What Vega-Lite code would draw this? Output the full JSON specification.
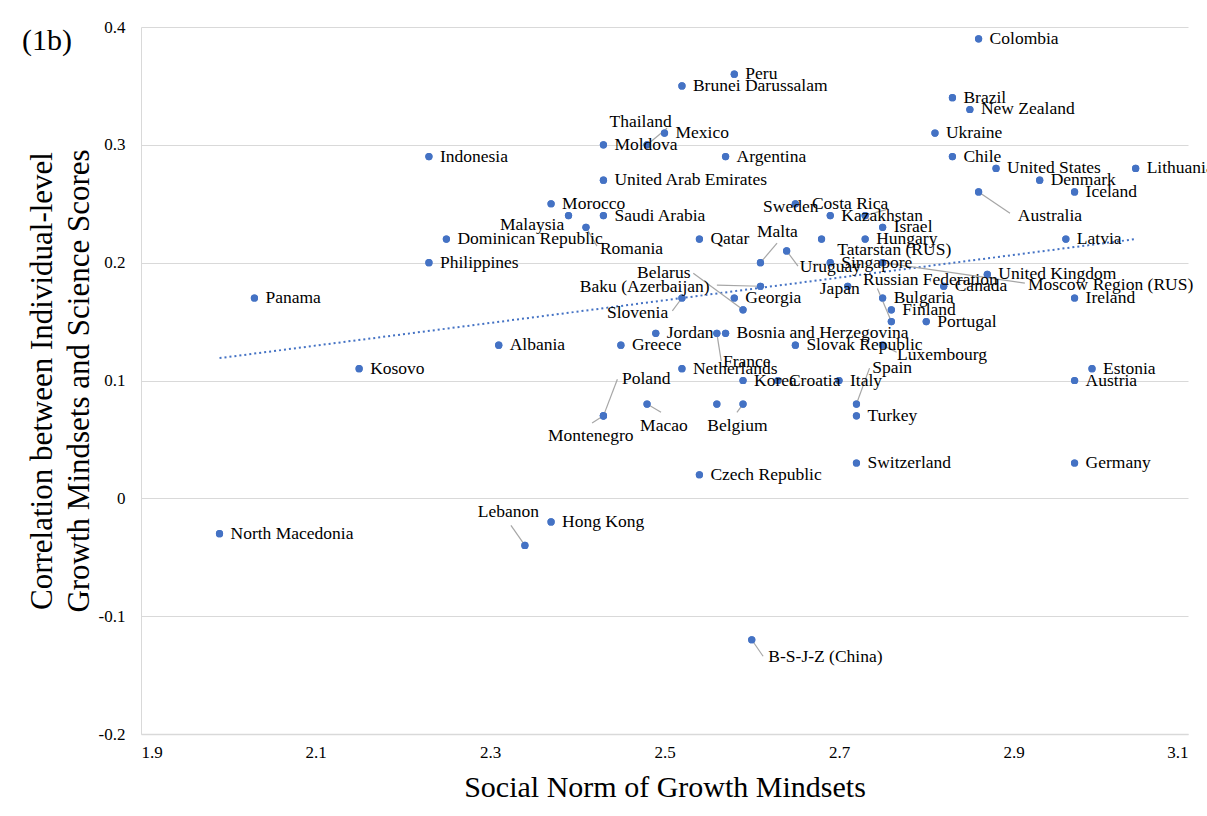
{
  "$schema": "https://vega.github.io/schema/vega-lite/v6.json",
  "width": 1047,
  "height": 707,
  "autosize": {"type": "none"},
  "padding": {"left": 141, "top": 27, "right": 19, "bottom": 82},
  "background": "white",
  "title": {"text": "(1b)", "anchor": "start", "frame": "group", "orient": "top", "offset": -62, "dx": -119, "baseline": "alphabetic", "fontSize": 30, "fontWeight": "normal", "font": "Liberation Serif", "color": "#000000"},
  "config": {"view": {"stroke": null}, "font": "Liberation Serif"},
  "datasets": {
    "pts": [
      {"c": "Colombia", "x": 2.86, "y": 0.39},
      {"c": "Peru", "x": 2.58, "y": 0.36},
      {"c": "Brunei Darussalam", "x": 2.52, "y": 0.35},
      {"c": "Brazil", "x": 2.83, "y": 0.34},
      {"c": "New Zealand", "x": 2.85, "y": 0.33},
      {"c": "Mexico", "x": 2.50, "y": 0.31},
      {"c": "Ukraine", "x": 2.81, "y": 0.31},
      {"c": "Thailand", "x": 2.48, "y": 0.30, "lx": 2.437, "ly": 0.319, "kx": 2.503, "ky": 0.314},
      {"c": "Moldova", "x": 2.43, "y": 0.30},
      {"c": "Indonesia", "x": 2.23, "y": 0.29},
      {"c": "Argentina", "x": 2.57, "y": 0.29},
      {"c": "Chile", "x": 2.83, "y": 0.29},
      {"c": "United States", "x": 2.88, "y": 0.28},
      {"c": "Lithuania", "x": 3.04, "y": 0.28},
      {"c": "United Arab Emirates", "x": 2.43, "y": 0.27},
      {"c": "Denmark", "x": 2.93, "y": 0.27},
      {"c": "Iceland", "x": 2.97, "y": 0.26},
      {"c": "Australia", "x": 2.86, "y": 0.26, "lx": 2.905, "ly": 0.240, "kx": 2.896, "ky": 0.242},
      {"c": "Morocco", "x": 2.37, "y": 0.25},
      {"c": "Sweden", "x": 2.65, "y": 0.25, "lx": 2.613, "ly": 0.247},
      {"c": "Malaysia", "x": 2.39, "y": 0.24, "lx": 2.3115, "ly": 0.232},
      {"c": "Saudi Arabia", "x": 2.43, "y": 0.24},
      {"c": "Kazakhstan", "x": 2.69, "y": 0.24},
      {"c": "Costa Rica", "x": 2.73, "y": 0.24, "lx": 2.669, "ly": 0.250, "kx": 2.754, "ky": 0.245},
      {"c": "Romania", "x": 2.41, "y": 0.23, "lx": 2.426, "ly": 0.212, "kx": 2.4226, "ky": 0.214},
      {"c": "Israel", "x": 2.75, "y": 0.23},
      {"c": "Dominican Republic", "x": 2.25, "y": 0.22},
      {"c": "Qatar", "x": 2.54, "y": 0.22},
      {"c": "Tatarstan (RUS)", "x": 2.68, "y": 0.22, "lx": 2.698, "ly": 0.211},
      {"c": "Hungary", "x": 2.73, "y": 0.22},
      {"c": "Latvia", "x": 2.96, "y": 0.22},
      {"c": "Uruguay", "x": 2.64, "y": 0.21, "lx": 2.655, "ly": 0.196, "kx": 2.653, "ky": 0.197},
      {"c": "Philippines", "x": 2.23, "y": 0.20},
      {"c": "Malta", "x": 2.61, "y": 0.20, "lx": 2.606, "ly": 0.226, "kx": 2.629, "ky": 0.2166},
      {"c": "Singapore", "x": 2.69, "y": 0.20},
      {"c": "Moscow Region (RUS)", "x": 2.75, "y": 0.20, "lx": 2.9166, "ly": 0.181, "kx": 2.913, "ky": 0.1827},
      {"c": "United Kingdom", "x": 2.87, "y": 0.19},
      {"c": "Baku (Azerbaijan)", "x": 2.61, "y": 0.18, "lx": 2.403, "ly": 0.179, "kx": 2.560, "ky": 0.181},
      {"c": "Japan", "x": 2.71, "y": 0.18, "lx": 2.678, "ly": 0.178},
      {"c": "Canada", "x": 2.82, "y": 0.18},
      {"c": "Panama", "x": 2.03, "y": 0.17},
      {"c": "Slovenia", "x": 2.52, "y": 0.17, "lx": 2.434, "ly": 0.157, "kx": 2.509, "ky": 0.159},
      {"c": "Georgia", "x": 2.58, "y": 0.17},
      {"c": "Bulgaria", "x": 2.75, "y": 0.17},
      {"c": "Ireland", "x": 2.97, "y": 0.17},
      {"c": "Belarus", "x": 2.59, "y": 0.16, "lx": 2.4685, "ly": 0.191, "kx": 2.533, "ky": 0.191},
      {"c": "Finland", "x": 2.76, "y": 0.16},
      {"c": "Russian Federation", "x": 2.76, "y": 0.15, "lx": 2.7275, "ly": 0.185, "kx": 2.744, "ky": 0.178},
      {"c": "Portugal", "x": 2.80, "y": 0.15},
      {"c": "Jordan", "x": 2.49, "y": 0.14},
      {"c": "France", "x": 2.56, "y": 0.14, "lx": 2.567, "ly": 0.1156, "kx": 2.565, "ky": 0.1165},
      {"c": "Bosnia and Herzegovina", "x": 2.57, "y": 0.14},
      {"c": "Albania", "x": 2.31, "y": 0.13},
      {"c": "Greece", "x": 2.45, "y": 0.13},
      {"c": "Slovak Republic", "x": 2.65, "y": 0.13},
      {"c": "Luxembourg", "x": 2.75, "y": 0.13, "lx": 2.7665, "ly": 0.1216, "kx": 2.766, "ky": 0.124},
      {"c": "Kosovo", "x": 2.15, "y": 0.11},
      {"c": "Netherlands", "x": 2.52, "y": 0.11},
      {"c": "Estonia", "x": 2.99, "y": 0.11},
      {"c": "Korea", "x": 2.59, "y": 0.10},
      {"c": "Croatia", "x": 2.63, "y": 0.10},
      {"c": "Italy", "x": 2.70, "y": 0.10},
      {"c": "Austria", "x": 2.97, "y": 0.10},
      {"c": "Poland", "x": 2.43, "y": 0.07, "lx": 2.4513, "ly": 0.101, "kx": 2.446, "ky": 0.101},
      {"c": "Montenegro", "x": 2.43, "y": 0.07, "lx": 2.3665, "ly": 0.053, "kx": 2.417, "ky": 0.064},
      {"c": "Macao", "x": 2.48, "y": 0.08, "lx": 2.472, "ly": 0.061, "kx": 2.496, "ky": 0.073},
      {"c": "", "x": 2.56, "y": 0.08},
      {"c": "Belgium", "x": 2.59, "y": 0.08, "lx": 2.549, "ly": 0.061, "kx": 2.583, "ky": 0.073},
      {"c": "Spain", "x": 2.72, "y": 0.08, "lx": 2.738, "ly": 0.111, "kx": 2.735, "ky": 0.1105},
      {"c": "Turkey", "x": 2.72, "y": 0.07},
      {"c": "Czech Republic", "x": 2.54, "y": 0.02},
      {"c": "Switzerland", "x": 2.72, "y": 0.03},
      {"c": "Germany", "x": 2.97, "y": 0.03},
      {"c": "Hong Kong", "x": 2.37, "y": -0.02},
      {"c": "North Macedonia", "x": 1.99, "y": -0.03},
      {"c": "Lebanon", "x": 2.34, "y": -0.04, "lx": 2.286, "ly": -0.012, "kx": 2.324, "ky": -0.023},
      {"c": "B-S-J-Z (China)", "x": 2.60, "y": -0.12, "lx": 2.619, "ly": -0.135, "kx": 2.613, "ky": -0.134}
    ],
    "trend": [
      {"x": 1.99, "y": 0.119},
      {"x": 3.04, "y": 0.220}
    ]
  },
  "layer": [
    {
      "data": {"name": "pts"},
      "mark": {"type": "circle", "size": 52, "color": "#4472C4", "opacity": 1},
      "encoding": {
        "x": {
          "field": "x", "type": "quantitative",
          "scale": {"domain": [1.9, 3.1], "nice": false, "zero": false},
          "axis": {
            "title": "Social Norm of Growth Mindsets",
            "titleFontSize": 30, "titleFontWeight": "normal", "titleColor": "#000000", "titleFont": "Liberation Serif",
            "values": [1.9, 2.1, 2.3, 2.5, 2.7, 2.9, 3.1], "format": ".1f",
            "labelFontSize": 17, "labelColor": "#000000", "labelFont": "Liberation Serif",
            "grid": false, "ticks": false, "domainColor": "#d9d9d9", "domainWidth": 1.5,
            "labelPadding": 10, "titlePadding": 12
          }
        },
        "y": {
          "field": "y", "type": "quantitative",
          "scale": {"domain": [-0.2, 0.4], "nice": false, "zero": false},
          "axis": {
            "title": ["Correlation between Individual-level", "Growth Mindsets and Science Scores"],
            "titleFontSize": 31, "titleFontWeight": "normal", "titleColor": "#000000", "titleFont": "Liberation Serif", "titleLineHeight": 37,
            "values": [-0.2, -0.1, 0, 0.1, 0.2, 0.3, 0.4],
            "labelExpr": "datum.value == 0 ? '0' : toString(round(datum.value * 10) / 10)",
            "labelFontSize": 17, "labelColor": "#000000", "labelFont": "Liberation Serif",
            "grid": true, "gridColor": "#d9d9d9", "gridWidth": 1.2,
            "ticks": false, "domain": true, "domainColor": "#d9d9d9",
            "labelPadding": 16, "titlePadding": 3
          }
        }
      }
    },
    {
      "data": {"name": "trend"},
      "mark": {"type": "line", "color": "#4472C4", "strokeWidth": 2, "strokeDash": [2, 3]},
      "encoding": {
        "x": {"field": "x", "type": "quantitative"},
        "y": {"field": "y", "type": "quantitative"}
      }
    },
    {
      "data": {"name": "pts"},
      "transform": [{"filter": "isValid(datum.kx)"}],
      "mark": {"type": "rule", "color": "#a6a6a6", "strokeWidth": 1.2},
      "encoding": {
        "x": {"field": "x", "type": "quantitative"},
        "y": {"field": "y", "type": "quantitative"},
        "x2": {"field": "kx"},
        "y2": {"field": "ky"}
      }
    },
    {
      "data": {"name": "pts"},
      "mark": {"type": "circle", "size": 52, "color": "#4472C4", "opacity": 1},
      "encoding": {
        "x": {"field": "x", "type": "quantitative"},
        "y": {"field": "y", "type": "quantitative"}
      }
    },
    {
      "data": {"name": "pts"},
      "transform": [{"filter": "!isValid(datum.lx)"}],
      "mark": {"type": "text", "align": "left", "baseline": "middle", "dx": 11, "fontSize": 17.5, "font": "Liberation Serif", "color": "#000000"},
      "encoding": {
        "x": {"field": "x", "type": "quantitative"},
        "y": {"field": "y", "type": "quantitative"},
        "text": {"field": "c"}
      }
    },
    {
      "data": {"name": "pts"},
      "transform": [{"filter": "isValid(datum.lx)"}],
      "mark": {"type": "text", "align": "left", "baseline": "middle", "fontSize": 17.5, "font": "Liberation Serif", "color": "#000000"},
      "encoding": {
        "x": {"field": "lx", "type": "quantitative"},
        "y": {"field": "ly", "type": "quantitative"},
        "text": {"field": "c"}
      }
    }
  ]
}
